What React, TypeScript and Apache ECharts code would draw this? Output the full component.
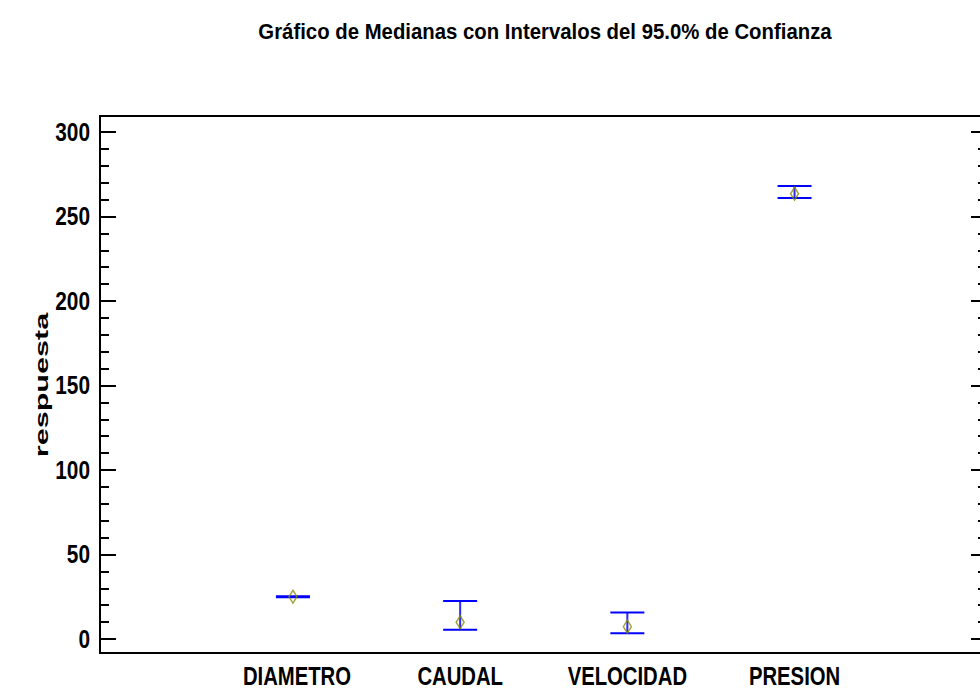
import React, { useEffect, useRef } from "react";
import * as echarts from "echarts";

const categories = ["DIAMETRO", "CAUDAL", "VELOCIDAD", "PRESION"];
const medians = [25, 9.9, 7.3, 263.5];
const lowerLimits = [24.7, 5.5, 3.4, 261];
const upperLimits = [25.3, 22.5, 15.6, 268];
const majorTicks = [0, 50, 100, 150, 200, 250, 300];
const minorTicks = [10, 20, 30, 40, 60, 70, 80, 90, 110, 120, 130, 140, 160, 170, 180, 190, 210, 220, 230, 240, 260, 270, 280, 290];
const titleText = "Gráfico de Medianas con Intervalos del 95.0% de Confianza";
const yName = "respuesta";

const FONT = "'Liberation Sans', Arial, sans-serif";

export default function App() {
  const ref = useRef<HTMLDivElement>(null);
  useEffect(() => {
    if (!ref.current) return;
    const chart = echarts.init(ref.current, null, { renderer: "svg" });
    const positions = categories.map((_, i) => i + 1);
    const gridRect = { left: 100, right: 13, top: 116, bottom: 41 };
    const yBase = { type: "value", min: -8.3, max: 309.5, splitLine: { show: false }, axisLine: { show: false, onZero: false }, axisLabel: { show: false } };
    const xBase = { type: "value", min: -0.154, max: 5.151, splitLine: { show: false }, axisLine: { show: false, onZero: false }, axisTick: { show: false }, axisLabel: { show: false } };
    const tick = (len: number, vals: number[]) => ({ show: true, inside: true, length: len, customValues: vals, lineStyle: { color: "#000", width: 2 } });
    const option: any = {
      animation: false,
      backgroundColor: "#ffffff",
      grid: [
        { ...gridRect, show: true, borderColor: "#000", borderWidth: 2, backgroundColor: "transparent" },
        { ...gridRect, show: false },
      ],
      xAxis: [
        { ...xBase, gridIndex: 0 },
        { ...xBase, gridIndex: 1 },
      ],
      yAxis: [
        { ...yBase, gridIndex: 0, position: "left", axisTick: tick(16, majorTicks) },
        { ...yBase, gridIndex: 0, position: "right", axisTick: tick(16, majorTicks) },
        { ...yBase, gridIndex: 1, position: "left", axisTick: tick(9, minorTicks) },
        { ...yBase, gridIndex: 1, position: "right", axisTick: tick(9, minorTicks) },
      ],
      series: [
        {
          type: "custom",
          xAxisIndex: 0,
          yAxisIndex: 0,
          data: positions.map((p, i) => [p, lowerLimits[i], upperLimits[i]]),
          renderItem: (params: any, api: any) => {
            const x = api.value(0);
            const lo = api.coord([x, api.value(1)]);
            const hi = api.coord([x, api.value(2)]);
            const half = 17;
            const style = { stroke: "#0000ff", lineWidth: 2 };
            return {
              type: "group",
              children: [
                { type: "line", shape: { x1: lo[0], y1: lo[1], x2: hi[0], y2: hi[1] }, style: { stroke: "#2a2aff", lineWidth: 2 } },
                { type: "line", shape: { x1: hi[0] - half, y1: hi[1], x2: hi[0] + half, y2: hi[1] }, style },
                { type: "line", shape: { x1: lo[0] - half, y1: lo[1], x2: lo[0] + half, y2: lo[1] }, style },
              ],
            };
          },
          z: 2,
        },
        {
          type: "scatter",
          xAxisIndex: 0,
          yAxisIndex: 0,
          data: positions.map((p, i) => [p, medians[i]]),
          symbol: "diamond",
          symbolSize: [8, 13],
          itemStyle: { color: "rgba(0,0,0,0)", borderColor: "#8a8a00", borderWidth: 1.5 },
          z: 3,
        },
      ],
    };
    chart.setOption(option);

    const graphics: any[] = [
      {
        type: "text",
        x: 545,
        y: 31,
        scaleX: 0.925,
        style: { text: titleText, font: `bold 22px ${FONT}`, fill: "#000", align: "center", verticalAlign: "middle" },
      },
      {
        type: "text",
        x: 42,
        y: 385,
        rotation: Math.PI / 2,
        scaleX: 1.7,
        style: { text: yName, font: `bold 18px ${FONT}`, fill: "#000", align: "center", verticalAlign: "middle" },
      },
    ];
    majorTicks.forEach((v) => {
      const py = chart.convertToPixel({ yAxisIndex: 0 } as any, v) as number;
      graphics.push({
        type: "text",
        x: 90,
        y: py,
        scaleX: 0.8,
        style: { text: String(v), font: `bold 26px ${FONT}`, fill: "#000", align: "right", verticalAlign: "middle" },
      });
    });
    positions.forEach((p, i) => {
      const px = chart.convertToPixel({ xAxisIndex: 0 } as any, p) as number;
      graphics.push({
        type: "text",
        x: px + (i === 0 ? 4 : 0),
        y: 676,
        scaleX: 0.78,
        style: { text: categories[i], font: `bold 26px ${FONT}`, fill: "#000", align: "center", verticalAlign: "middle" },
      });
    });
    chart.setOption({ graphic: graphics });
    return () => chart.dispose();
  }, []);
  return (
    <div style={{ position: "absolute", left: 0, top: 0, width: 980, height: 694, overflow: "hidden" }}>
      <div ref={ref} style={{ width: 1000, height: 694 }} />
    </div>
  );
}
